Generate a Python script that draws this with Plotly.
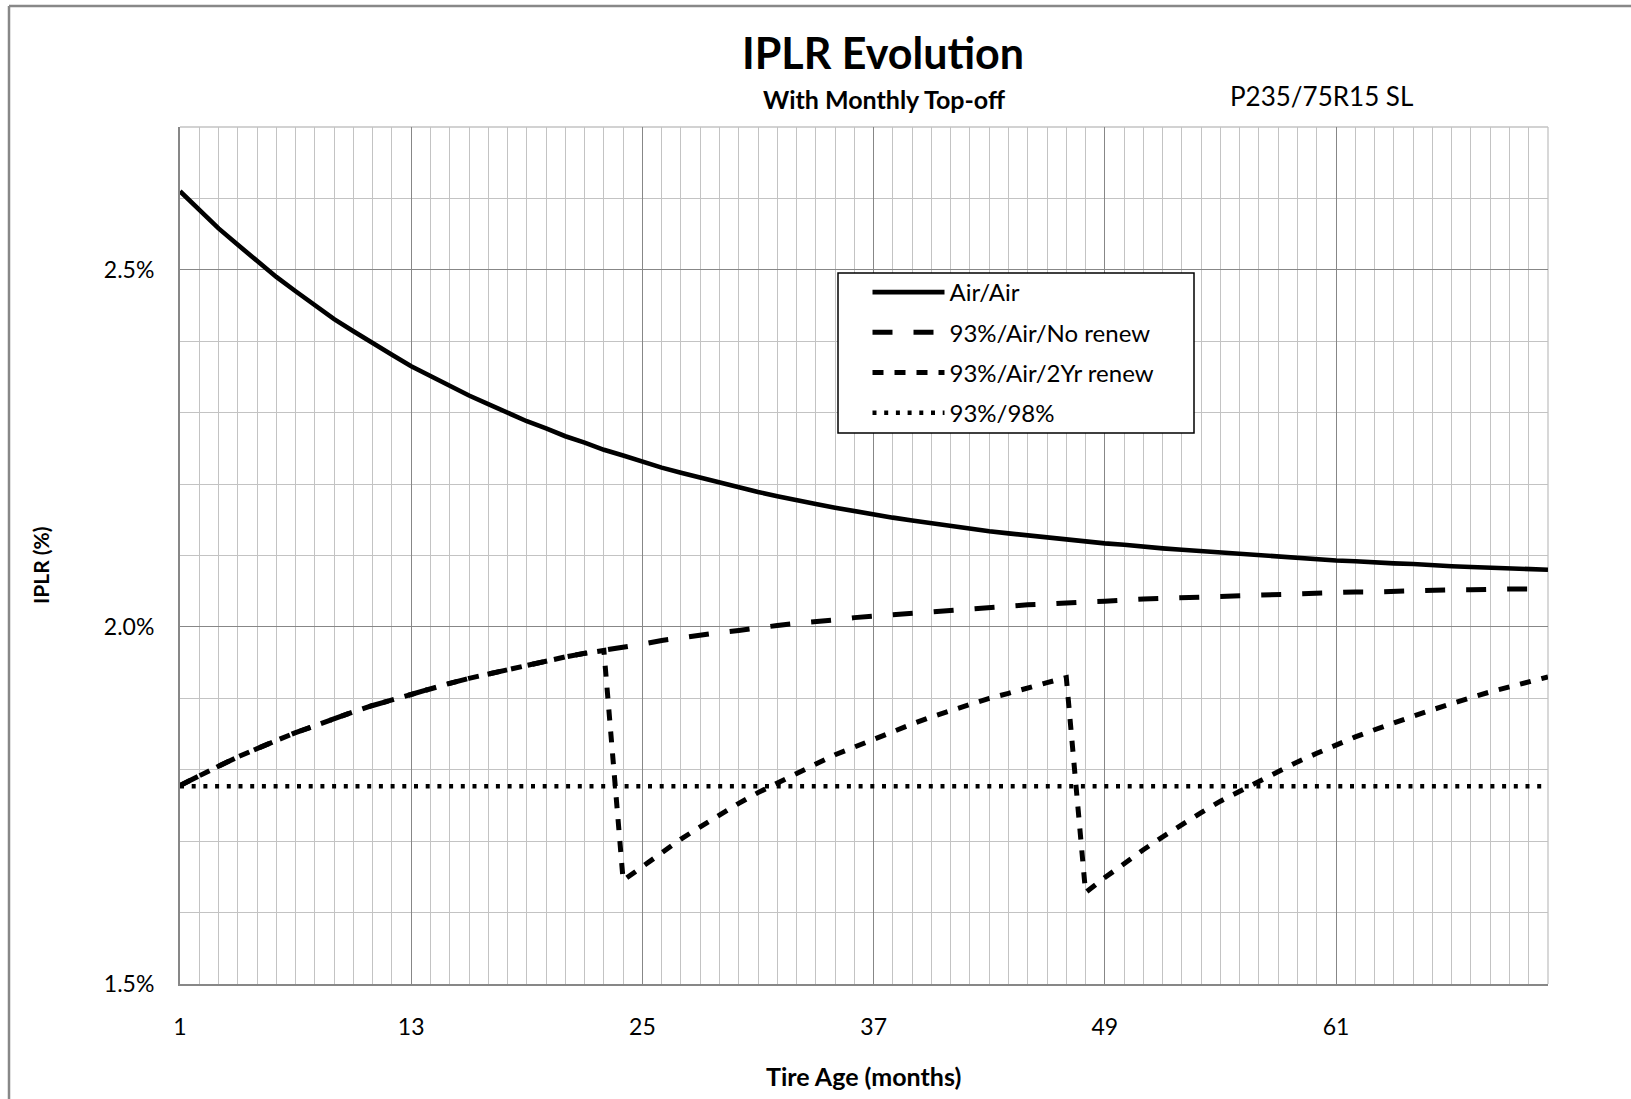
import plotly.graph_objects as go

months = list(range(1, 73))

air_air = [2.610, 2.584, 2.558, 2.535, 2.512, 2.490, 2.470, 2.450, 2.431, 2.414,
           2.397, 2.381, 2.365, 2.351, 2.337, 2.324, 2.312, 2.300, 2.288, 2.278,
           2.267, 2.258, 2.248, 2.240, 2.231, 2.223, 2.216, 2.209, 2.202, 2.195,
           2.189, 2.183, 2.177, 2.172, 2.167, 2.162, 2.158, 2.153, 2.149, 2.145,
           2.141, 2.138, 2.134, 2.131, 2.128, 2.125, 2.122, 2.120, 2.117, 2.115,
           2.112, 2.110, 2.108, 2.106, 2.104, 2.103, 2.101, 2.099, 2.097, 2.095,
           2.093, 2.092, 2.090, 2.089, 2.088, 2.086, 2.085, 2.084, 2.083, 2.082,
           2.081, 2.080]

no_renew = [1.778, 1.792, 1.805, 1.818, 1.830, 1.841, 1.852, 1.862, 1.872, 1.881,
            1.890, 1.898, 1.906, 1.914, 1.921, 1.928, 1.934, 1.941, 1.947, 1.952,
            1.958, 1.963, 1.967, 1.972, 1.976, 1.981, 1.985, 1.988, 1.992, 1.995,
            1.999, 2.002, 2.005, 2.007, 2.010, 2.013, 2.015, 2.017, 2.020, 2.022,
            2.024, 2.025, 2.027, 2.029, 2.031, 2.032, 2.034, 2.035, 2.036, 2.038,
            2.039, 2.040, 2.041, 2.042, 2.043, 2.044, 2.045, 2.046, 2.046, 2.047,
            2.048, 2.049, 2.049, 2.050, 2.050, 2.051, 2.052, 2.052, 2.053, 2.053,
            2.053, 2.054]

renew_2yr = [1.778, 1.792, 1.805, 1.818, 1.830, 1.841, 1.852, 1.862, 1.872, 1.881,
             1.890, 1.898, 1.906, 1.914, 1.921, 1.928, 1.934, 1.941, 1.947, 1.952,
             1.958, 1.963, 1.967,
             1.645, 1.665, 1.685, 1.703, 1.720, 1.737, 1.753, 1.768, 1.782, 1.795,
             1.808, 1.821, 1.832, 1.843, 1.854, 1.864, 1.874, 1.883, 1.891, 1.900,
             1.907, 1.915, 1.922, 1.929,
             1.628, 1.649, 1.669, 1.688, 1.706, 1.724, 1.740, 1.756, 1.770, 1.785,
             1.798, 1.811, 1.823, 1.835, 1.846, 1.856, 1.866, 1.875, 1.884, 1.893,
             1.901, 1.909, 1.916, 1.923, 1.930]

n93_98 = [1.777] * 72

series = [
    ("Air/Air", air_air, "solid", 4.6),
    ("93%/Air/No renew", no_renew, "20px,21px", 5.0),
    ("93%/Air/2Yr renew", renew_2yr, "11px,11px", 5.0),
    ("93%/98%", n93_98, "4px,7.7px", 4.4),
]

FONT = "Lato"
W, H = 1631, 1099
L, R, T, B = 180, 1548, 127, 984

fig = go.Figure()
for i, (name, vals, dash, w) in enumerate(series):
    fig.add_trace(go.Scatter(
        x=months, y=vals, mode="lines", name=name, legendgroup=f"g{i}",
        line=dict(color="black", width=w, dash=dash),
    ))

def px_x(p):
    return (p - L) / (R - L)

def px_y(p):
    return (B - p) / (B - T)

MINOR = "#c3c3c3"
MAJOR = "#878787"

fig.update_layout(
    width=W, height=H,
    margin=dict(l=L, r=W - R, t=T, b=H - B, pad=0),
    paper_bgcolor="white", plot_bgcolor="white",
    font=dict(family=FONT, size=23, color="black"),
    showlegend=True,
    legend=dict(
        x=px_x(867.5), y=px_y(270), xanchor="left", yanchor="top",
        borderwidth=0, bgcolor="rgba(0,0,0,0)",
        font=dict(family=FONT, size=24, color="black"),
        itemwidth=72, tracegroupgap=6, traceorder="grouped",
    ),
    xaxis=dict(
        range=[1, 72], tickmode="linear", tick0=1, dtick=12,
        showgrid=True, gridcolor=MAJOR, gridwidth=1.3,
        showline=True, linecolor=MAJOR, linewidth=2,
        zeroline=False, ticks="outside", ticklen=21, tickcolor="rgba(0,0,0,0)",
        tickfont=dict(family=FONT, size=23, color="black"),
        minor=dict(tick0=1, dtick=1, showgrid=True, gridcolor=MINOR, gridwidth=1.3),
    ),
    yaxis=dict(
        range=[1.5, 2.7], tickmode="linear", tick0=1.5, dtick=0.5,
        tickformat=".1f", ticksuffix="%",
        showgrid=True, gridcolor=MAJOR, gridwidth=1.3,
        showline=True, linecolor=MAJOR, linewidth=2,
        zeroline=False, ticks="outside", ticklen=19, tickcolor="rgba(0,0,0,0)",
        tickfont=dict(family=FONT, size=23, color="black"),
        minor=dict(tick0=1.5, dtick=0.1, showgrid=True, gridcolor=MINOR, gridwidth=1.3),
    ),
    annotations=[
        dict(text="<b>IPLR Evolution</b>", x=px_x(883), y=px_y(53), xref="paper", yref="paper",
             xanchor="center", yanchor="middle", showarrow=False,
             font=dict(family=FONT, size=43, color="black")),
        dict(text="<b>With Monthly Top-off</b>", x=px_x(884), y=px_y(99), xref="paper", yref="paper",
             xanchor="center", yanchor="middle", showarrow=False,
             font=dict(family=FONT, size=25, color="black")),
        dict(text="P235/75R15 SL", x=px_x(1321), y=px_y(96), xref="paper", yref="paper",
             xanchor="center", yanchor="middle", showarrow=False,
             font=dict(family=FONT, size=26, color="black")),
        dict(text="<b>Tire Age (months)</b>", x=px_x(863), y=px_y(1076), xref="paper", yref="paper",
             xanchor="center", yanchor="middle", showarrow=False,
             font=dict(family=FONT, size=25, color="black")),
        dict(text="<b>IPLR (%)</b>", x=px_x(40), y=px_y(566), xref="paper", yref="paper",
             xanchor="center", yanchor="middle", showarrow=False, textangle=-90,
             font=dict(family=FONT, size=21, color="black")),
    ],
    shapes=[
        # chart-area border (left and top)
        dict(type="line", xref="paper", yref="paper", x0=px_x(9), x1=px_x(9),
             y0=px_y(6), y1=px_y(1120), line=dict(color="#888888", width=2.5)),
        dict(type="line", xref="paper", yref="paper", x0=px_x(9), x1=px_x(1650),
             y0=px_y(6), y1=px_y(6), line=dict(color="#888888", width=2.5)),
        # plot-area top and right edges (light grid lines)
        dict(type="line", xref="paper", yref="paper", x0=0, x1=1, y0=1, y1=1,
             line=dict(color=MINOR, width=1.3), layer="below"),
        dict(type="line", xref="paper", yref="paper", x0=1, x1=1, y0=0, y1=1,
             line=dict(color=MINOR, width=1.3), layer="below"),
        # legend box
        dict(type="rect", xref="paper", yref="paper",
             x0=px_x(838), x1=px_x(1194), y0=px_y(433), y1=px_y(273),
             line=dict(color="black", width=1.5), fillcolor="white", layer="above"),
    ],
)

fig.write_html("out.html", config={"displayModeBar": False},
               post_script="document.body.style.margin='0';document.body.style.overflow='hidden';")
